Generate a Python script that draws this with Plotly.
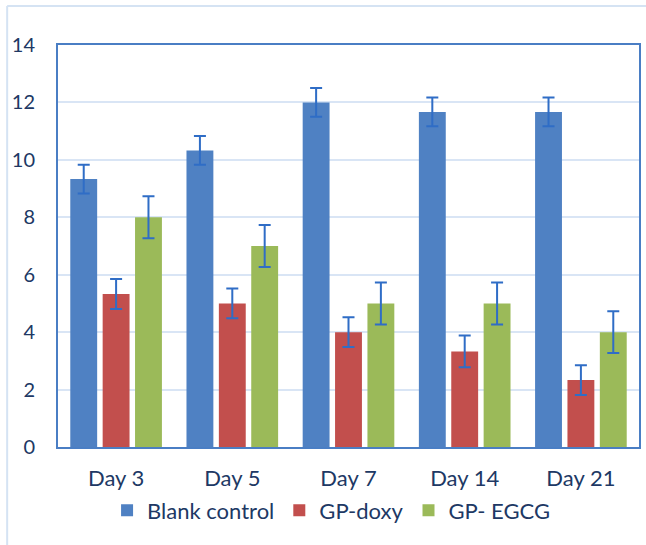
import plotly.graph_objects as go

days = ["Day 3", "Day 5", "Day 7", "Day 14", "Day 21"]
blank_control = [9.33, 10.33, 12.0, 11.67, 11.67]
blank_err = [0.5, 0.5, 0.5, 0.5, 0.5]
gp_doxy = [5.33, 5.0, 4.0, 3.33, 2.33]
doxy_err = [0.52, 0.52, 0.52, 0.55, 0.52]
gp_egcg = [8.0, 7.0, 5.0, 5.0, 4.0]
egcg_err = [0.73, 0.73, 0.73, 0.73, 0.73]
y_ticks = [0, 2, 4, 6, 8, 10, 12, 14]

font_family = "Lato, 'Liberation Sans', sans-serif"
text_color = "#203864"
err_color = "#2F6DC6"

fig = go.Figure()
series = [
    ("Blank control", blank_control, blank_err, "#4F81C3"),
    ("GP-doxy", gp_doxy, doxy_err, "#C24F4D"),
    ("GP- EGCG", gp_egcg, egcg_err, "#9BBA59"),
]
for name, vals, errs, color in series:
    fig.add_trace(go.Bar(
        name=name, x=days, y=vals,
        marker=dict(color=color, line=dict(width=0)),
        error_y=dict(type="data", array=errs, visible=True,
                     color=err_color, thickness=2, width=6),
    ))

fig.update_layout(
    width=646, height=545,
    margin=dict(l=58, r=5, t=45, b=98),
    paper_bgcolor="white", plot_bgcolor="white",
    barmode="group", bargap=0.164, bargroupgap=0.17,
    font=dict(family=font_family, color=text_color, size=22),
    showlegend=True,
    legend=dict(orientation="h", x=0.47, xanchor="center", y=-0.158,
                yanchor="middle", font=dict(size=22, color=text_color),
                itemwidth=30, traceorder="normal"),
    xaxis=dict(showline=True, linecolor="#4A7EC4", linewidth=2, mirror=True,
               ticks="", ticklabelstandoff=11,
               tickfont=dict(size=22, color=text_color)),
    yaxis=dict(range=[0, 14], tickvals=y_ticks, showline=True,
               linecolor="#4A7EC4", linewidth=2, mirror=True,
               showgrid=True, gridcolor="#D9E5F5", gridwidth=2,
               zeroline=False, ticks="", ticklabelstandoff=17,
               tickfont=dict(size=20, color=text_color)),
    shapes=[
        dict(type="line", xref="paper", yref="paper",
             x0=-0.0875, x1=1.05, y0=1.0970, y1=1.0970,
             line=dict(color="#D5E3F3", width=2)),
        dict(type="line", xref="paper", yref="paper",
             x0=-0.0875, x1=-0.0875, y0=1.0970, y1=-0.3,
             line=dict(color="#D5E3F3", width=2)),
    ],
)

fig.write_html("out.html", config={"displayModeBar": False},
               post_script="document.body.style.margin='0px';")
